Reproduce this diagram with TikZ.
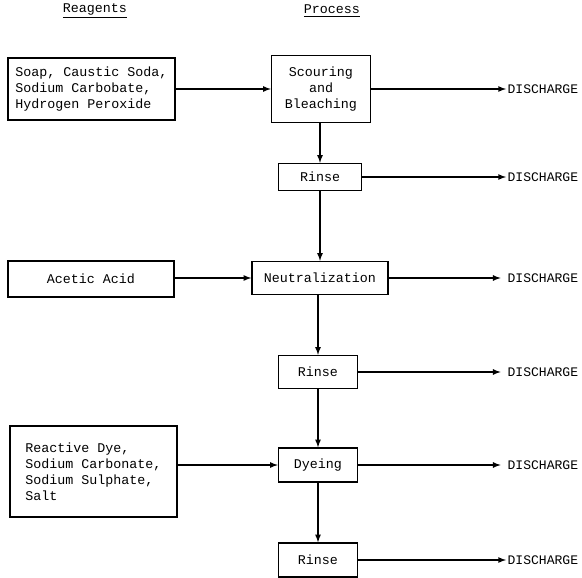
\documentclass[tikz,border=0pt]{standalone}
\usepackage{fontspec}
\setmonofont{Liberation Mono}
\usetikzlibrary{arrows}

\begin{document}
\begin{tikzpicture}[x=0.75pt,y=-0.75pt,
	box/.style={draw, line width=1pt, font=\ttfamily\fontsize{10}{12}\selectfont, inner sep=2pt},
	outlbl/.style={font=\ttfamily\fontsize{9.8}{12}\selectfont, anchor=west, inner sep=1pt},
	head/.style={font=\ttfamily\fontsize{10}{12}\selectfont},
	flow/.style={-latex, line width=1pt}]
			\useasboundingbox (0,0) rectangle (582,578);
			\node[head] (reag) at (95,11) {\underline{Reagents}};
			\node[head] (proc) at (332,11) {\underline{Process}};
			\node[box, align=left, minimum width=125.25pt, minimum height=46.5pt] (soap) at (91.5,89) {Soap, Caustic Soda,\\Sodium Carbobate,\\Hydrogen Peroxide};
			\node[box, align=center, minimum width=74.25pt, minimum height=50.25pt] (scour) at (321,89) {Scouring\\and\\Bleaching};
			\node[box, minimum width=62.25pt, minimum height=20.25pt] (rinse1) at (320,177) {Rinse};
			\node[box, minimum width=124.5pt, minimum height=27pt] (acetic) at (91,279) {Acetic Acid};
			\node[box, minimum width=102pt, minimum height=24.75pt] (neutral) at (320,278) {Neutralization};
			\node[box, minimum width=59.25pt, minimum height=24.75pt] (rinse2) at (318,372) {Rinse};
			\node[box, align=left, minimum width=125.25pt, minimum height=68.25pt] (reactive) at (93.5,471.5) {Reactive Dye,\\Sodium Carbonate,\\Sodium Sulphate,\\Salt};
			\node[box, minimum width=59.25pt, minimum height=25.5pt] (dyeing) at (318,465) {Dyeing};
			\node[box, minimum width=59.25pt, minimum height=25.5pt] (rinse3) at (318,560) {Rinse};
			\node[outlbl] (d1) at (506,89) {DISCHARGE};
			\node[outlbl] (d2) at (506,177) {DISCHARGE};
			\node[outlbl] (d3) at (506,278) {DISCHARGE};
			\node[outlbl] (d4) at (506,372) {DISCHARGE};
			\node[outlbl] (d5) at (506,465) {DISCHARGE};
			\node[outlbl] (d6) at (506,560) {DISCHARGE};
			\draw[flow] (soap) -- (scour);
			\draw[flow] (acetic.east |- neutral) -- (neutral);
			\draw[flow] (reactive.east |- dyeing) -- (dyeing);
			\draw[flow] (scour.south -| rinse1) -- (rinse1);
			\draw[flow] (rinse1.south -| neutral) -- (neutral);
			\draw[flow] (neutral.south -| rinse2) -- (rinse2);
			\draw[flow] (rinse2) -- (dyeing);
			\draw[flow] (dyeing) -- (rinse3);
			\draw[flow] (scour) -- (d1);
			\draw[flow] (rinse1) -- (d2);
			\draw[flow, shorten >=4pt] (neutral) -- (d3);
			\draw[flow, shorten >=4pt] (rinse2) -- (d4);
			\draw[flow, shorten >=4pt] (dyeing) -- (d5);
			\draw[flow] (rinse3) -- (d6);
		\end{tikzpicture}
\end{document}
